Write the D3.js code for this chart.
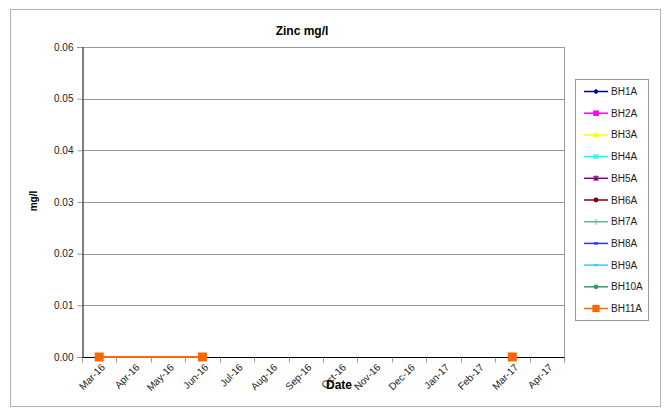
<!DOCTYPE html>
<html>
<head>
<meta charset="utf-8">
<script src="https://cdn.jsdelivr.net/npm/d3@7"></script>
<style>
  html, body { margin: 0; padding: 0; background: #fff; }
  svg { display: block; font-family: "Liberation Sans", Arial, sans-serif; }
</style>
</head>
<body>
<svg id="chart" width="665" height="408"></svg>
<script>
// Months shown on the category axis
const months = ["Mar-16","Apr-16","May-16","Jun-16","Jul-16","Aug-16","Sep-16",
                "Oct-16","Nov-16","Dec-16","Jan-17","Feb-17","Mar-17","Apr-17"];

// Quarterly sampling rounds; null = no result (line breaks there)
const sampleMonths = ["Mar-16","Jun-16","Sep-16","Dec-16","Mar-17"];

// Zinc results (mg/l) per borehole, one per sampling round
const BH1A  = [0, 0, null, null, 0];
const BH2A  = [0, 0, null, null, 0];
const BH3A  = [0, 0, null, null, 0];
const BH4A  = [0, 0, null, null, 0];
const BH5A  = [0, 0, null, null, 0];
const BH6A  = [0, 0, null, null, 0];
const BH7A  = [0, 0, null, null, 0];
const BH8A  = [0, 0, null, null, 0];
const BH9A  = [0, 0, null, null, 0];
const BH10A = [0, 0, null, null, 0];
const BH11A = [0, 0, null, null, 0];

const seriesNames = ["BH1A","BH2A","BH3A","BH4A","BH5A","BH6A","BH7A","BH8A","BH9A","BH10A","BH11A"];
const seriesValues = [BH1A, BH2A, BH3A, BH4A, BH5A, BH6A, BH7A, BH8A, BH9A, BH10A, BH11A];

const yTicks = [0, 0.01, 0.02, 0.03, 0.04, 0.05, 0.06];

// Line colour and marker symbol per series
const styles = [
  { color: "#000080", marker: "diamond" },
  { color: "#ff00ff", marker: "square" },
  { color: "#ffff00", marker: "triangle" },
  { color: "#00ffff", marker: "x" },
  { color: "#800080", marker: "star" },
  { color: "#800000", marker: "circle" },
  { color: "#66b28c", marker: "plus" },
  { color: "#3333ff", marker: "dash" },
  { color: "#33ccff", marker: "dash" },
  { color: "#339966", marker: "circle" },
  { color: "#ff6600", marker: "bigsquare" }
];

const svg = d3.select("#chart");

// Outer chart frame
svg.append("rect")
  .attr("x", 10.5).attr("y", 9.5).attr("width", 650).attr("height", 397)
  .attr("fill", "#fff").attr("stroke", "#b3b3b3").attr("stroke-width", 1);

const plot = { left: 82, right: 564, top: 47, bottom: 357 };

const x = d3.scaleBand().domain(months).range([plot.left, plot.right]);
const y = d3.scaleLinear().domain([0, 0.06]).range([plot.bottom, plot.top]);
const cx = m => x(m) + x.bandwidth() / 2;

// Gridlines
svg.append("g")
  .selectAll("line")
  .data(yTicks.filter(d => d > 0))
  .join("line")
  .attr("x1", plot.left).attr("x2", plot.right)
  .attr("y1", d => Math.round(y(d)) + 0.5).attr("y2", d => Math.round(y(d)) + 0.5)
  .attr("stroke", "#999").attr("stroke-width", 1);

// Right border of plot area
svg.append("line")
  .attr("x1", plot.right + 0.5).attr("x2", plot.right + 0.5)
  .attr("y1", plot.top).attr("y2", plot.bottom)
  .attr("stroke", "#999");

// Y axis
const yAxis = svg.append("g")
  .attr("transform", `translate(${plot.left + 0.5},0)`)
  .call(d3.axisLeft(y).tickValues(yTicks).tickFormat(d3.format(".2f")).tickSizeOuter(0).tickSize(5).tickPadding(4));
yAxis.select(".domain").attr("stroke", "#000");
yAxis.selectAll(".tick line").attr("stroke", "#999");
yAxis.selectAll(".tick text").attr("fill", "#222").style("font-size", "10px");

// X axis: ticks on category boundaries, labels rotated at category centres
const xAxisG = svg.append("g").attr("transform", `translate(0,${plot.bottom + 0.5})`);
xAxisG.append("line")
  .attr("x1", plot.left).attr("x2", plot.right + 1)
  .attr("stroke", "#000");
const bounds = d3.range(months.length + 1).map(i => plot.left + i * x.step());
xAxisG.selectAll("line.tk").data(bounds).join("line")
  .attr("class", "tk")
  .attr("x1", d => Math.round(d) + 0.5).attr("x2", d => Math.round(d) + 0.5)
  .attr("y1", 0).attr("y2", 5)
  .attr("stroke", "#999");
xAxisG.selectAll("text").data(months).join("text")
  .attr("transform", d => `translate(${cx(d) + 4},${8}) rotate(-45)`)
  .attr("text-anchor", "end")
  .attr("dy", "0.35em")
  .attr("fill", "#222")
  .style("font-size", "10px")
  .text(d => d);

// Series lines and markers
const line = d3.line()
  .defined(d => d.v !== null)
  .x(d => cx(d.m))
  .y(d => y(d.v));

function drawMarker(g, type, color, px, py, k) {
  const s = g.append("g").attr("transform", `translate(${px},${py}) scale(${k})`);
  switch (type) {
    case "diamond":
      s.append("path").attr("d", "M0,-3.5L3.5,0L0,3.5L-3.5,0Z").attr("fill", color); break;
    case "square":
      s.append("rect").attr("x", -3.5).attr("y", -3.5).attr("width", 7).attr("height", 7).attr("fill", color); break;
    case "bigsquare":
      s.append("rect").attr("x", -4.5).attr("y", -4.5).attr("width", 9).attr("height", 9).attr("fill", color); break;
    case "triangle":
      s.append("path").attr("d", "M0,-4L4,3L-4,3Z").attr("fill", color); break;
    case "x":
      s.append("path").attr("d", "M-3,-3L3,3M-3,3L3,-3").attr("stroke", color).attr("stroke-width", 1.5); break;
    case "star":
      s.append("path").attr("d", "M-3,-3L3,3M-3,3L3,-3M0,-3.5L0,3.5").attr("stroke", color).attr("stroke-width", 1.5); break;
    case "circle":
      s.append("circle").attr("r", 3).attr("fill", color); break;
    case "plus":
      s.append("path").attr("d", "M0,-4L0,4M-3,0L3,0").attr("stroke", color).attr("stroke-width", 1); break;
    case "dash":
      s.append("rect").attr("x", -2.5).attr("y", -1.5).attr("width", 5).attr("height", 3).attr("fill", color); break;
  }
}

const seriesG = svg.append("g");
seriesNames.forEach((name, i) => {
  const pts = sampleMonths.map((m, j) => ({ m, v: seriesValues[i][j] }));
  const st = styles[i];
  seriesG.append("path")
    .attr("d", line(pts))
    .attr("fill", "none")
    .attr("stroke", st.color)
    .attr("stroke-width", 2);
  pts.filter(p => p.v !== null).forEach(p => {
    drawMarker(seriesG, st.marker, st.color, cx(p.m), y(p.v), 1);
  });
});

// Titles
svg.append("text")
  .attr("x", 302).attr("y", 35)
  .attr("text-anchor", "middle")
  .style("font-size", "12px").style("font-weight", "bold")
  .text("Zinc mg/l");

svg.append("text")
  .attr("transform", "translate(37,201) rotate(-90)")
  .attr("text-anchor", "middle")
  .style("font-size", "10px").style("font-weight", "bold")
  .text("mg/l");

svg.append("text")
  .attr("x", 339).attr("y", 389)
  .attr("text-anchor", "middle")
  .style("font-size", "12px").style("font-weight", "bold")
  .text("Date");

// Legend
const legend = svg.append("g");
legend.append("rect")
  .attr("x", 575.5).attr("y", 79.5).attr("width", 73).attr("height", 241)
  .attr("fill", "#fff").attr("stroke", "#999");
seriesNames.forEach((name, i) => {
  const ly = 91.5 + i * 21.7;
  const st = styles[i];
  legend.append("line")
    .attr("x1", 584).attr("x2", 608).attr("y1", ly).attr("y2", ly)
    .attr("stroke", st.color).attr("stroke-width", 1.5);
  drawMarker(legend, st.marker, st.color, 596, ly, 0.8);
  legend.append("text")
    .attr("x", 611).attr("y", ly).attr("dy", "0.35em")
    .attr("fill", "#222")
    .style("font-size", "10px")
    .text(name);
});
</script>
</body>
</html>
